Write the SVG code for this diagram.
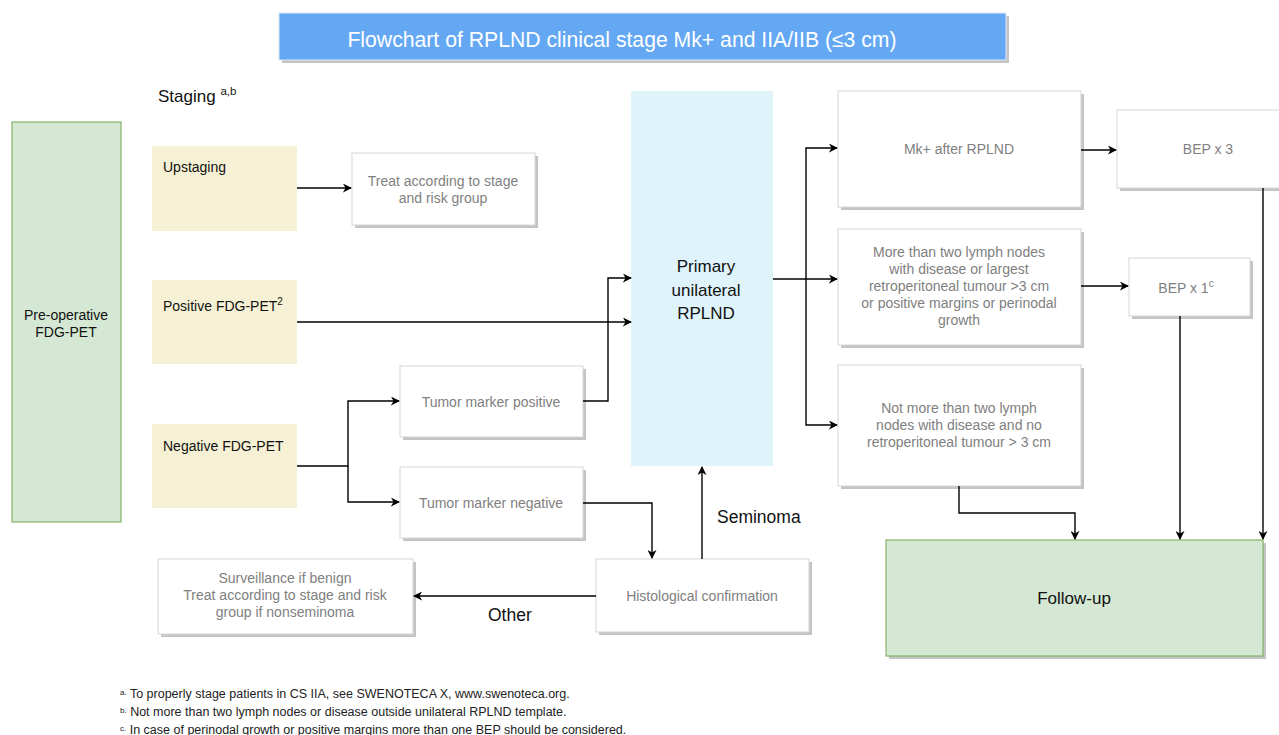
<svg xmlns="http://www.w3.org/2000/svg" width="1279" height="735" viewBox="0 0 1279 735">
<style>
text{font-family:"Liberation Sans",Arial,sans-serif}
.w{fill:#fff;stroke:#d6d6d6;stroke-width:1}
.sh{fill:#c4c4c4}
.g{fill:#808080;font-size:14px;text-anchor:middle}
.y{fill:#f6f1d4}
.b{fill:#111;font-size:14px}
.c{fill:none;stroke:#000;stroke-width:1.4}
.fn{fill:#222;font-size:12.5px}
.lbl{fill:#111;font-size:17.5px}
</style>
<defs>
<marker id="ar" viewBox="0 0 10 10" refX="9" refY="5" markerWidth="9" markerHeight="9" markerUnits="userSpaceOnUse" orient="auto">
<path d="M0,0 L10,5 L0,10 L3,5 z" fill="#000"/>
</marker>
</defs>
<rect width="1279" height="735" fill="#fff"/>
<g id="title">
<rect x="282" y="16" width="727" height="47" class="sh"/>
<rect x="279" y="13" width="727" height="47" fill="#64a8f4" stroke="#dde9f7"/>
<text x="622" y="47" font-size="21.2" fill="#fff" text-anchor="middle">Flowchart of RPLND clinical stage Mk+ and IIA/IIB (≤3 cm)</text>
</g>
<g id="staging-label">
<text x="158" y="102" font-size="17" fill="#111">Staging <tspan font-size="11.5" dy="-7">a,b</tspan></text>
</g>
<g id="preop">
<rect x="12" y="122" width="109" height="400" fill="#d5e8d4" stroke="#82b366" stroke-width="1.2"/>
<text x="66" y="320" class="b" text-anchor="middle">Pre-operative</text>
<text x="66" y="337" class="b" text-anchor="middle">FDG-PET</text>
</g>
<g id="upstaging">
<rect x="152" y="146" width="145" height="85" class="y"/>
<text x="163" y="172" class="b">Upstaging</text>
</g>
<g id="positive">
<rect x="152" y="280" width="145" height="84" class="y"/>
<text x="163" y="311" class="b">Positive FDG-PET<tspan font-size="10" dy="-6">2</tspan></text>
</g>
<g id="negative">
<rect x="152" y="424" width="145" height="84" class="y"/>
<text x="163" y="451" class="b">Negative FDG-PET</text>
</g>
<g id="treat">
<rect x="355" y="156" width="183" height="72" class="sh"/>
<rect x="352" y="153" width="183" height="72" class="w"/>
<text x="443" y="186" class="g">Treat according to stage</text>
<text x="443" y="203" class="g">and risk group</text>
</g>
<g id="tm-pos">
<rect x="403" y="369" width="183" height="71" class="sh"/>
<rect x="400" y="366" width="183" height="71" class="w"/>
<text x="491" y="407" class="g">Tumor marker positive</text>
</g>
<g id="tm-neg">
<rect x="403" y="470" width="183" height="71" class="sh"/>
<rect x="400" y="467" width="183" height="71" class="w"/>
<text x="491" y="508" class="g">Tumor marker negative</text>
</g>
<g id="primary">
<rect x="631" y="91" width="142" height="375" fill="#dff3fa"/>
<text x="706" y="272" font-size="17" fill="#111" text-anchor="middle">Primary</text>
<text x="706" y="296" font-size="17" fill="#111" text-anchor="middle">unilateral</text>
<text x="706" y="319" font-size="17" fill="#111" text-anchor="middle">RPLND</text>
</g>
<g id="histo">
<rect x="599" y="562" width="213" height="73" class="sh"/>
<rect x="596" y="559" width="213" height="73" class="w"/>
<text x="702" y="601" class="g">Histological confirmation</text>
</g>
<g id="surveillance">
<rect x="161" y="562" width="255" height="75" class="sh"/>
<rect x="158" y="559" width="255" height="75" class="w"/>
<text x="285" y="583" class="g">Surveillance if benign</text>
<text x="285" y="600" class="g">Treat according to stage and risk</text>
<text x="285" y="617" class="g">group if nonseminoma</text>
</g>
<g id="mk">
<rect x="841" y="94" width="243" height="116" class="sh"/>
<rect x="838" y="91" width="243" height="116" class="w"/>
<text x="959" y="154" class="g">Mk+ after RPLND</text>
</g>
<g id="more">
<rect x="841" y="232" width="243" height="116" class="sh"/>
<rect x="838" y="229" width="243" height="116" class="w"/>
<text x="959" y="257" class="g">More than two lymph nodes</text>
<text x="959" y="274" class="g">with disease or largest</text>
<text x="959" y="291" class="g">retroperitoneal tumour &gt;3 cm</text>
<text x="959" y="308" class="g">or positive margins or perinodal</text>
<text x="959" y="325" class="g">growth</text>
</g>
<g id="notmore">
<rect x="841" y="368" width="243" height="121" class="sh"/>
<rect x="838" y="365" width="243" height="121" class="w"/>
<text x="959" y="413" class="g">Not more than two lymph</text>
<text x="959" y="430" class="g">nodes with disease and no</text>
<text x="959" y="447" class="g">retroperitoneal tumour &gt; 3 cm</text>
</g>
<g id="bep3">
<rect x="1120" y="113" width="170" height="78" class="sh"/>
<rect x="1117" y="110" width="170" height="78" class="w"/>
<text x="1208" y="154" class="g">BEP x 3</text>
</g>
<g id="bep1">
<rect x="1132" y="261" width="121" height="58" class="sh"/>
<rect x="1129" y="258" width="121" height="58" class="w"/>
<text x="1186" y="293" class="g">BEP x 1<tspan font-size="10" dy="-6">c</tspan></text>
</g>
<g id="followup">
<rect x="889" y="543" width="377" height="116" class="sh"/>
<rect x="886" y="540" width="377" height="116" fill="#d5e8d4" stroke="#82b366" stroke-width="1.2"/>
<text x="1074" y="604" font-size="17" fill="#111" text-anchor="middle">Follow-up</text>
</g>
<g id="connectors">
<path class="c" d="M297,188 H351" marker-end="url(#ar)"/>
<path class="c" d="M297,322 H631" marker-end="url(#ar)"/>
<path class="c" d="M297,466 H348 V401 H399" marker-end="url(#ar)"/>
<path class="c" d="M348,466 V502 H399" marker-end="url(#ar)"/>
<path class="c" d="M583,401 H608 V278 H631" marker-end="url(#ar)"/>
<path class="c" d="M583,503 H652 V558" marker-end="url(#ar)"/>
<path class="c" d="M702,559 V467" marker-end="url(#ar)"/>
<path class="c" d="M596,596 H414" marker-end="url(#ar)"/>
<path class="c" d="M773,279 H837" marker-end="url(#ar)"/>
<path class="c" d="M806,279 V148 H837" marker-end="url(#ar)"/>
<path class="c" d="M806,279 V425 H837" marker-end="url(#ar)"/>
<path class="c" d="M1081,150 H1116" marker-end="url(#ar)"/>
<path class="c" d="M1081,286 H1128" marker-end="url(#ar)"/>
<path class="c" d="M1180,316 V539" marker-end="url(#ar)"/>
<path class="c" d="M1263,188 V539" marker-end="url(#ar)"/>
<path class="c" d="M959,486 V513 H1075 V539" marker-end="url(#ar)"/>
<text x="717" y="523" class="lbl">Seminoma</text>
<text x="488" y="621" class="lbl">Other</text>
</g>
<g id="footnotes">
<text x="120" y="698" class="fn"><tspan font-size="8" dy="-3">a.</tspan><tspan dy="3"> To properly stage patients in CS IIA, see SWENOTECA X, www.swenoteca.org.</tspan></text>
<text x="120" y="716" class="fn"><tspan font-size="8" dy="-3">b.</tspan><tspan dy="3"> Not more than two lymph nodes or disease outside unilateral RPLND template.</tspan></text>
<text x="120" y="734" class="fn"><tspan font-size="8" dy="-3">c.</tspan><tspan dy="3"> In case of perinodal growth or positive margins more than one BEP should be considered.</tspan></text>
</g>
</svg>
